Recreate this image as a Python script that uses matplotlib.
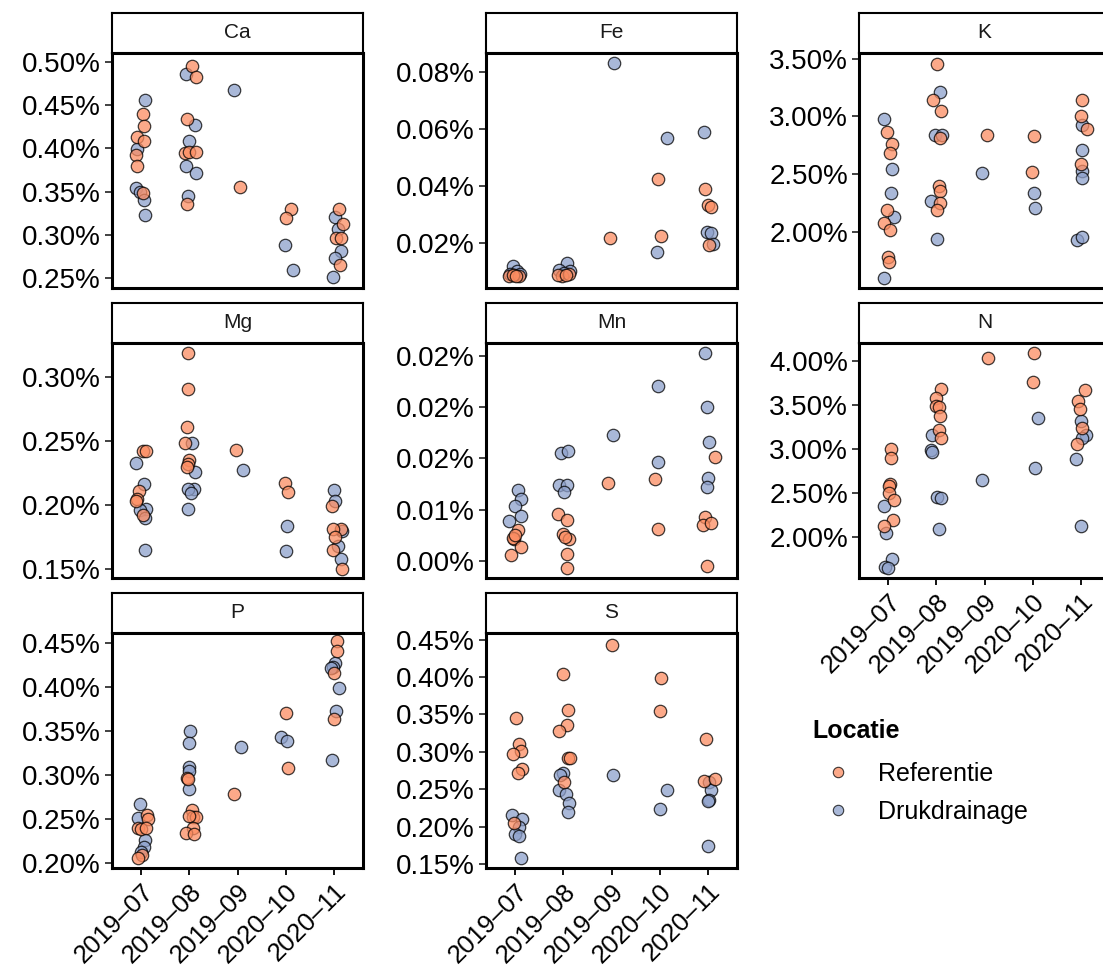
import numpy as np
import matplotlib.pyplot as plt
from matplotlib.lines import Line2D

plt.rcParams['font.family'] = ['Liberation Sans', 'DejaVu Sans']

months = ["2019-07", "2019-08", "2019-09", "2020-10", "2020-11"]
month_labels = [m.replace("-", "\u2013") for m in months]
groups = ["Referentie", "Drukdrainage"]

# (month, jitter, content in %)
ca_ref = [("2019-07", 0.04, 0.440), ("2019-07", 0.06, 0.426), ("2019-07", -0.08, 0.413),
          ("2019-07", 0.06, 0.408), ("2019-07", -0.11, 0.392), ("2019-07", -0.08, 0.380),
          ("2019-07", 0.05, 0.349),
          ("2019-08", 0.05, 0.495), ("2019-08", 0.14, 0.482), ("2019-08", -0.05, 0.434),
          ("2019-08", -0.08, 0.395), ("2019-08", -0.01, 0.396), ("2019-08", 0.14, 0.396),
          ("2019-08", -0.05, 0.336),
          ("2019-09", 0.05, 0.355),
          ("2020-10", 0.11, 0.330), ("2020-10", 0.00, 0.320),
          ("2020-11", 0.10, 0.330), ("2020-11", 0.18, 0.313), ("2020-11", 0.05, 0.296),
          ("2020-11", 0.15, 0.297), ("2020-11", 0.12, 0.265)]
ca_drk = [("2019-07", 0.09, 0.456), ("2019-07", -0.08, 0.399), ("2019-07", -0.10, 0.354),
          ("2019-07", -0.03, 0.350), ("2019-07", 0.06, 0.340), ("2019-07", 0.09, 0.323),
          ("2019-08", -0.07, 0.486), ("2019-08", 0.12, 0.427), ("2019-08", 0.00, 0.409),
          ("2019-08", -0.07, 0.380), ("2019-08", 0.14, 0.371), ("2019-08", -0.02, 0.345),
          ("2019-09", -0.07, 0.467),
          ("2020-10", -0.01, 0.289), ("2020-10", 0.15, 0.260),
          ("2020-11", 0.01, 0.321), ("2020-11", 0.08, 0.307), ("2020-11", 0.15, 0.281),
          ("2020-11", 0.03, 0.273), ("2020-11", -0.03, 0.251)]

fe_ref = [("2019-07", -0.02, 0.0085), ("2019-07", -0.12, 0.0083), ("2019-07", 0.08, 0.0084),
          ("2019-07", -0.05, 0.0086), ("2019-07", 0.03, 0.0082),
          ("2019-08", -0.02, 0.0084), ("2019-08", -0.10, 0.0087), ("2019-08", 0.12, 0.0090),
          ("2019-08", 0.05, 0.0086),
          ("2019-09", -0.03, 0.0218),
          ("2020-10", -0.04, 0.0426), ("2020-10", 0.02, 0.0223),
          ("2020-11", -0.07, 0.0388), ("2020-11", 0.00, 0.0332), ("2020-11", 0.07, 0.0326),
          ("2020-11", 0.03, 0.0193)]
fe_drk = [("2019-07", -0.05, 0.0117), ("2019-07", 0.05, 0.0100), ("2019-07", -0.10, 0.0092),
          ("2019-07", 0.10, 0.0090),
          ("2019-08", 0.08, 0.0129), ("2019-08", -0.08, 0.0105), ("2019-08", 0.14, 0.0100),
          ("2019-08", 0.01, 0.0095),
          ("2019-09", 0.05, 0.0833),
          ("2020-10", 0.16, 0.0570), ("2020-10", -0.06, 0.0167),
          ("2020-11", -0.08, 0.0591), ("2020-11", -0.03, 0.0239), ("2020-11", 0.07, 0.0236),
          ("2020-11", 0.10, 0.0197)]

k_ref = [("2019-07", -0.03, 2.863), ("2019-07", 0.09, 2.760), ("2019-07", 0.05, 2.687),
         ("2019-07", -0.03, 2.190), ("2019-07", -0.09, 2.073), ("2019-07", 0.04, 2.015),
         ("2019-07", 0.00, 1.780), ("2019-07", 0.02, 1.740),
         ("2019-08", 0.02, 3.456), ("2019-08", -0.07, 3.146), ("2019-08", 0.09, 3.044),
         ("2019-08", 0.07, 2.810), ("2019-08", 0.05, 2.400), ("2019-08", 0.07, 2.350),
         ("2019-08", 0.07, 2.250), ("2019-08", 0.02, 2.185),
         ("2019-09", 0.05, 2.840),
         ("2020-10", 0.03, 2.827), ("2020-10", -0.01, 2.520),
         ("2020-11", 0.01, 3.140), ("2020-11", -0.01, 3.000), ("2020-11", 0.12, 2.890),
         ("2020-11", 0.00, 2.590)]
k_drk = [("2019-07", -0.08, 2.980), ("2019-07", 0.09, 2.540), ("2019-07", 0.07, 2.336),
         ("2019-07", 0.12, 2.130), ("2019-07", -0.08, 1.600),
         ("2019-08", 0.07, 3.210), ("2019-08", -0.03, 2.840), ("2019-08", 0.11, 2.840),
         ("2019-08", -0.10, 2.270), ("2019-08", 0.02, 1.940),
         ("2019-09", -0.05, 2.510),
         ("2020-10", 0.03, 2.336), ("2020-10", 0.04, 2.205),
         ("2020-11", 0.03, 2.927), ("2020-11", 0.03, 2.710), ("2020-11", 0.03, 2.530),
         ("2020-11", 0.02, 2.470), ("2020-11", -0.08, 1.930), ("2020-11", 0.01, 1.950)]

mg_ref = [("2019-07", 0.04, 0.2420), ("2019-07", 0.11, 0.2420), ("2019-07", -0.04, 0.2108),
          ("2019-07", -0.08, 0.2048), ("2019-07", -0.10, 0.2029), ("2019-07", 0.05, 0.1923),
          ("2019-08", -0.02, 0.3188), ("2019-08", -0.03, 0.2907), ("2019-08", -0.05, 0.2606),
          ("2019-08", -0.08, 0.2487), ("2019-08", -0.01, 0.2352), ("2019-08", -0.03, 0.2320),
          ("2019-08", -0.05, 0.2299),
          ("2019-09", -0.03, 0.2426),
          ("2020-10", -0.01, 0.2175), ("2020-10", 0.04, 0.2103),
          ("2020-11", -0.05, 0.1990), ("2020-11", 0.15, 0.1810), ("2020-11", -0.03, 0.1810),
          ("2020-11", 0.01, 0.1751), ("2020-11", -0.03, 0.1646), ("2020-11", 0.16, 0.1500)]
mg_drk = [("2019-07", -0.10, 0.2328), ("2019-07", 0.06, 0.2167), ("2019-07", 0.11, 0.1968),
          ("2019-07", -0.03, 0.1963), ("2019-07", 0.08, 0.1897), ("2019-07", 0.09, 0.1646),
          ("2019-08", 0.05, 0.2487), ("2019-08", 0.12, 0.2259), ("2019-08", 0.10, 0.2127),
          ("2019-08", -0.03, 0.2122), ("2019-08", 0.03, 0.2090), ("2019-08", -0.02, 0.1968),
          ("2019-09", 0.12, 0.2275),
          ("2020-10", 0.02, 0.1839), ("2020-10", 0.00, 0.1638),
          ("2020-11", 0.00, 0.2114), ("2020-11", 0.01, 0.2029), ("2020-11", 0.16, 0.1800),
          ("2020-11", 0.08, 0.1677), ("2020-11", 0.15, 0.1580)]

mn_ref = [("2019-07", 0.07, 0.00305), ("2019-07", -0.03, 0.00215), ("2019-07", -0.05, 0.00225),
          ("2019-07", 0.12, 0.00139), ("2019-07", -0.09, 0.00060), ("2019-07", 0.01, 0.00250),
          ("2019-08", -0.10, 0.00454), ("2019-08", 0.07, 0.00404), ("2019-08", 0.00, 0.00265),
          ("2019-08", 0.12, 0.00215), ("2019-08", 0.03, 0.00230), ("2019-08", 0.07, 0.00066),
          ("2019-08", 0.08, -0.00073),
          ("2019-09", -0.07, 0.00762),
          ("2020-10", -0.10, 0.00795), ("2020-10", -0.03, 0.00308),
          ("2020-11", 0.14, 0.01010), ("2020-11", -0.07, 0.00430), ("2020-11", -0.10, 0.00348),
          ("2020-11", 0.07, 0.00374), ("2020-11", -0.03, -0.00050)]
mn_drk = [("2019-07", 0.06, 0.00695), ("2019-07", 0.13, 0.00603), ("2019-07", 0.01, 0.00536),
          ("2019-07", 0.12, 0.00437), ("2019-07", -0.12, 0.00391),
          ("2019-08", -0.05, 0.01050), ("2019-08", 0.10, 0.01076), ("2019-08", -0.09, 0.00738),
          ("2019-08", 0.07, 0.00745), ("2019-08", 0.01, 0.00669),
          ("2019-09", 0.03, 0.01225),
          ("2020-10", -0.03, 0.01705), ("2020-10", -0.03, 0.00970),
          ("2020-11", -0.07, 0.02030), ("2020-11", -0.03, 0.01500), ("2020-11", 0.03, 0.01159),
          ("2020-11", 0.00, 0.00805), ("2020-11", -0.03, 0.00722)]

n_ref = [("2019-07", 0.07, 3.004), ("2019-07", 0.07, 2.897), ("2019-07", 0.05, 2.609),
         ("2019-07", 0.02, 2.582), ("2019-07", 0.02, 2.498), ("2019-07", 0.12, 2.418),
         ("2019-07", 0.10, 2.199), ("2019-07", -0.08, 2.123),
         ("2019-08", 0.09, 3.674), ("2019-08", 0.00, 3.580), ("2019-08", 0.00, 3.483),
         ("2019-08", 0.05, 3.470), ("2019-08", 0.07, 3.375), ("2019-08", 0.05, 3.215),
         ("2019-08", 0.10, 3.120),
         ("2019-09", 0.07, 4.030),
         ("2020-10", 0.02, 4.088), ("2020-10", 0.01, 3.758),
         ("2020-11", 0.09, 3.667), ("2020-11", -0.07, 3.548), ("2020-11", -0.02, 3.456),
         ("2020-11", 0.03, 3.234), ("2020-11", -0.08, 3.061)]
n_drk = [("2019-07", -0.08, 2.360), ("2019-07", -0.05, 2.046), ("2019-07", 0.09, 1.759),
         ("2019-07", -0.06, 1.663), ("2019-07", 0.00, 1.655),
         ("2019-08", -0.08, 3.157), ("2019-08", -0.10, 2.985), ("2019-08", -0.08, 2.966),
         ("2019-08", 0.01, 2.456), ("2019-08", 0.09, 2.440), ("2019-08", 0.05, 2.092),
         ("2019-09", -0.05, 2.648),
         ("2020-10", 0.10, 3.356), ("2020-10", 0.05, 2.785),
         ("2020-11", 0.00, 3.318), ("2020-11", 0.10, 3.157), ("2020-11", 0.02, 3.119),
         ("2020-11", -0.10, 2.881), ("2020-11", 0.00, 2.134)]

p_ref = [("2019-07", 0.12, 0.2550), ("2019-07", 0.14, 0.2500), ("2019-07", -0.07, 0.2396),
         ("2019-07", 0.00, 0.2385), ("2019-07", 0.10, 0.2396), ("2019-07", 0.03, 0.2088),
         ("2019-07", -0.07, 0.2062),
         ("2019-08", -0.05, 0.2973), ("2019-08", -0.03, 0.2954), ("2019-08", 0.05, 0.2608),
         ("2019-08", 0.08, 0.2523), ("2019-08", 0.14, 0.2523), ("2019-08", 0.00, 0.2538),
         ("2019-08", 0.07, 0.2396), ("2019-08", -0.07, 0.2338), ("2019-08", 0.10, 0.2331),
         ("2019-09", -0.07, 0.2781),
         ("2020-10", 0.01, 0.3712), ("2020-10", 0.04, 0.3081),
         ("2020-11", 0.07, 0.4519), ("2020-11", 0.07, 0.4408), ("2020-11", 0.00, 0.4158),
         ("2020-11", 0.00, 0.3638)]
p_drk = [("2019-07", -0.03, 0.2673), ("2019-07", -0.07, 0.2512), ("2019-07", 0.08, 0.2262),
         ("2019-07", 0.07, 0.2185), ("2019-07", 0.00, 0.2127),
         ("2019-08", 0.01, 0.3500), ("2019-08", 0.00, 0.3369), ("2019-08", -0.01, 0.3096),
         ("2019-08", 0.00, 0.3050), ("2019-08", -0.01, 0.2846),
         ("2019-09", 0.08, 0.3319),
         ("2020-10", -0.09, 0.3435), ("2020-10", 0.03, 0.3388),
         ("2020-11", 0.02, 0.4269), ("2020-11", -0.03, 0.4231), ("2020-11", -0.07, 0.4220),
         ("2020-11", 0.10, 0.3985), ("2020-11", 0.05, 0.3731), ("2020-11", -0.05, 0.3177)]

s_ref = [("2019-07", 0.03, 0.3448), ("2019-07", 0.08, 0.3103), ("2019-07", 0.13, 0.3009),
         ("2019-07", -0.05, 0.2969), ("2019-07", 0.14, 0.2768), ("2019-07", 0.07, 0.2718),
         ("2019-07", -0.03, 0.2051),
         ("2019-08", 0.00, 0.4039), ("2019-08", 0.10, 0.3560), ("2019-08", 0.08, 0.3358),
         ("2019-08", -0.09, 0.3282), ("2019-08", 0.10, 0.2920), ("2019-08", 0.14, 0.2911),
         ("2019-08", 0.01, 0.2597),
         ("2019-09", 0.00, 0.4424),
         ("2020-10", 0.03, 0.3994), ("2020-10", 0.01, 0.3547),
         ("2020-11", -0.05, 0.3170), ("2020-11", -0.08, 0.2606), ("2020-11", 0.14, 0.2642)]
s_drk = [("2019-07", -0.07, 0.2150), ("2019-07", 0.14, 0.2096), ("2019-07", 0.08, 0.1993),
         ("2019-07", 0.00, 0.1895), ("2019-07", 0.08, 0.1868), ("2019-07", 0.12, 0.1581),
         ("2019-08", 0.00, 0.2718), ("2019-08", -0.07, 0.2687), ("2019-08", -0.09, 0.2486),
         ("2019-08", 0.06, 0.2441), ("2019-08", 0.12, 0.2315), ("2019-08", 0.10, 0.2195),
         ("2019-09", 0.04, 0.2687),
         ("2020-10", 0.14, 0.2486), ("2020-10", 0.00, 0.2240),
         ("2020-11", 0.03, 0.2597), ("2020-11", 0.07, 0.2495), ("2020-11", 0.03, 0.2351),
         ("2020-11", 0.00, 0.2338), ("2020-11", -0.01, 0.1738)]

mn_tick_labels = ["0.00%", "0.01%", "0.02%", "0.02%", "0.02%"]

colors = {"Referentie": "#FC8D62", "Drukdrainage": "#8DA0CB"}

# facet layout: (element, ref, drk, row, col, ylim, yticks)
panels = [
    ("Ca", ca_ref, ca_drk, 0, 0, (0.2388, 0.510), np.arange(0.25, 0.501, 0.05)),
    ("Fe", fe_ref, fe_drk, 0, 1, (0.0041, 0.0868), [0.02, 0.04, 0.06, 0.08]),
    ("K", k_ref, k_drk, 0, 2, (1.512, 3.55), [2.0, 2.5, 3.0, 3.5]),
    ("Mg", mg_ref, mg_drk, 1, 0, (0.1429, 0.3265), [0.15, 0.20, 0.25, 0.30]),
    ("Mn", mn_ref, mn_drk, 1, 1, (-0.00166, 0.02126), [0.0, 0.005, 0.010, 0.015, 0.020]),
    ("N", n_ref, n_drk, 1, 2, (1.54, 4.199), [2.0, 2.5, 3.0, 3.5, 4.0]),
    ("P", p_ref, p_drk, 2, 0, (0.1946, 0.4615), np.arange(0.20, 0.451, 0.05)),
    ("S", s_ref, s_drk, 2, 1, (0.1446, 0.459), np.arange(0.15, 0.451, 0.05)),
]
bottom_panels = {"N", "P", "S"}

W, H = 1103, 969
fig = plt.figure(figsize=(W / 100, H / 100), dpi=100)
col_left = [112, 486, 859]
row_top = [53, 343, 633]
pw, ph, sh = 251, 235, 40


def to_xy(points):
    x = np.array([months.index(m) + 1 + j for m, j, _ in points])
    y = np.array([v for _, _, v in points])
    return x, y


for name, ref, drk, r, c, ylim, yticks in panels:
    left, top = col_left[c], row_top[r]
    ax = fig.add_axes([left / W, 1 - (top + ph) / H, pw / W, ph / H])
    for grp, pts in (("Drukdrainage", drk), ("Referentie", ref)):
        x, y = to_xy(pts)
        ax.scatter(x, y, s=80, color=colors[grp], alpha=0.75,
                   edgecolor="black", linewidth=0.9, zorder=3)
    ax.set_xlim(0.4, 5.6)
    ax.set_ylim(*ylim)
    ax.set_yticks(yticks)
    if name == "Mn":
        ax.set_yticklabels(mn_tick_labels)
    else:
        ax.set_yticklabels(["%.2f%%" % t for t in yticks])
    ax.set_xticks(range(1, 6))
    if name in bottom_panels:
        ax.set_xticklabels(month_labels, rotation=45, ha="right",
                           rotation_mode="anchor")
        ax.tick_params(axis="x", length=5, width=1.3, labelsize=18.5, pad=3)
    else:
        ax.tick_params(axis="x", bottom=False, labelbottom=False)
    ax.tick_params(axis="y", length=5, width=1.3, labelsize=20, pad=3,
                   colors="#333333", labelcolor="black")
    for sp in ax.spines.values():
        sp.set_linewidth(2.2)

    # strip header
    sax = fig.add_axes([left / W, 1 - top / H, pw / W, sh / H])
    sax.set_xticks([])
    sax.set_yticks([])
    for sp in sax.spines.values():
        sp.set_linewidth(1.5)
    sax.text(0.5, 0.5, name, ha="center", va="center", fontsize=15,
             color="#1a1a1a", transform=sax.transAxes)

handles = [Line2D([], [], marker="o", linestyle="", markersize=7.5,
                  markerfacecolor=colors[g], markeredgecolor="black",
                  markeredgewidth=0.8, alpha=0.75) for g in groups]
leg = fig.legend(handles, groups, title="Locatie", loc="upper left",
                 bbox_to_anchor=(790 / W, 1 - 696 / H), frameon=False,
                 fontsize=18, title_fontproperties={"weight": "bold", "size": 18},
                 handletextpad=0.6, labelspacing=0.55, alignment="left")
leg._legend_box.sep = 14

fig.savefig("out.png", dpi=100, facecolor="white")
